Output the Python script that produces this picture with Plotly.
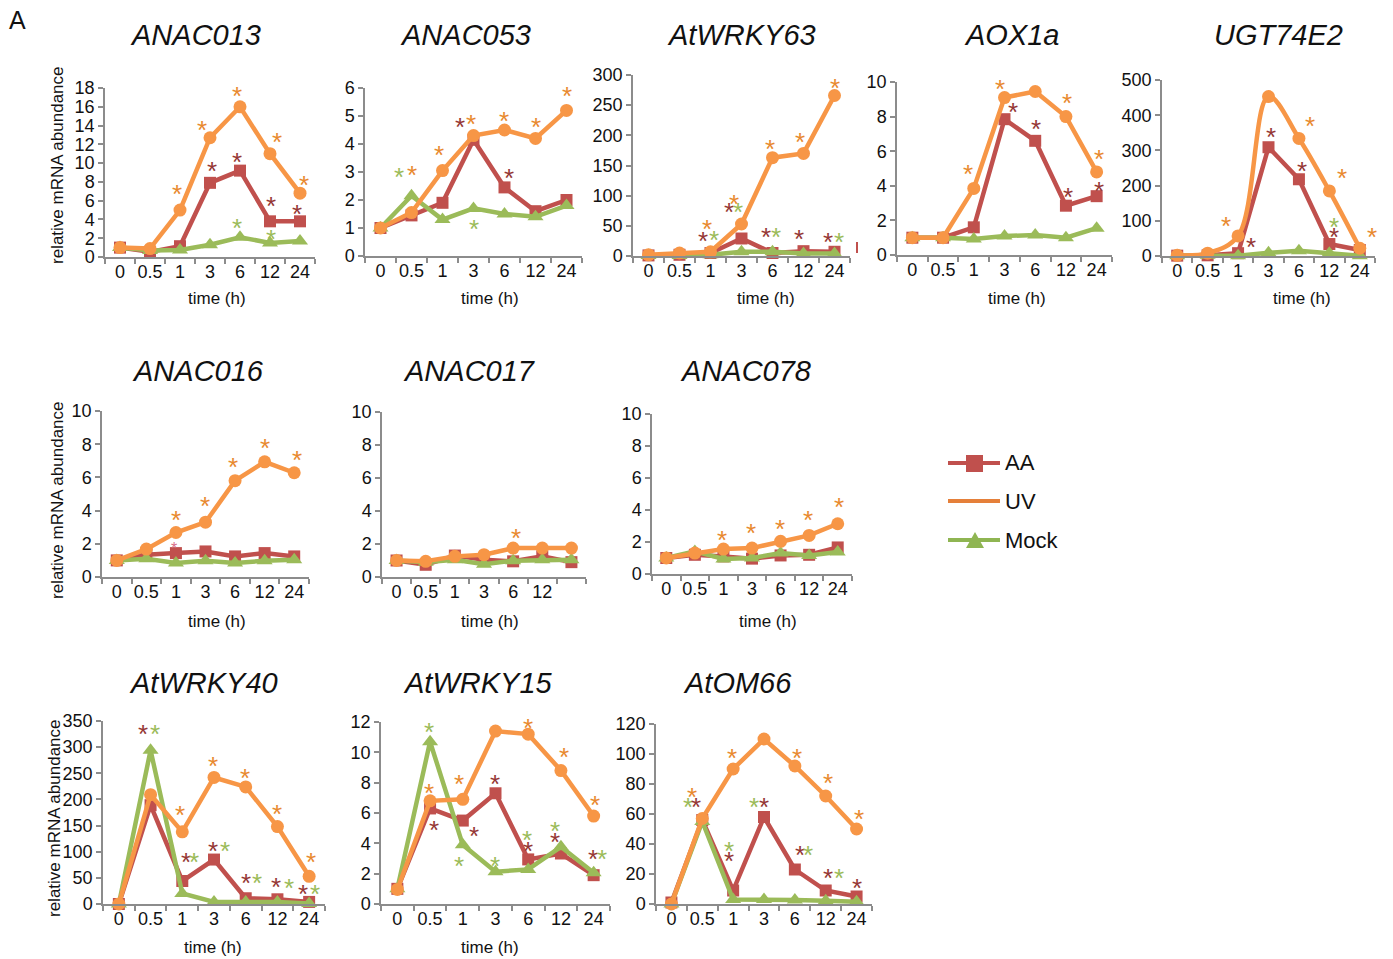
import plotly.graph_objects as go

W, H = 1393, 959
FONT = "Liberation Sans, Arial, sans-serif"

# ---------------- data ----------------
times = ["0", "0.5", "1", "3", "6", "12", "24"]
times_017 = ["0", "0.5", "1", "3", "6", "12", ""]

genes = ["ANAC013", "ANAC053", "AtWRKY63", "AOX1a", "UGT74E2",
         "ANAC016", "ANAC017", "ANAC078",
         "AtWRKY40", "AtWRKY15", "AtOM66"]

anac013_aa = [1.0, 0.55, 1.15, 7.9, 9.2, 3.8, 3.8]
anac013_uv = [1.0, 0.9, 5.0, 12.7, 16.0, 11.0, 6.8]
anac013_mock = [1.0, 0.7, 0.75, 1.3, 2.1, 1.5, 1.7]

anac053_aa = [1.0, 1.45, 1.9, 4.15, 2.45, 1.6, 2.0]
anac053_uv = [1.0, 1.55, 3.05, 4.3, 4.5, 4.2, 5.2]
anac053_mock = [1.0, 2.15, 1.3, 1.7, 1.5, 1.4, 1.8]

wrky63_aa = [1, 2, 5, 29, 5, 8, 7]
wrky63_uv = [2, 5, 7, 53, 163, 170, 266]
wrky63_mock = [1, 1, 2, 7, 7, 4, 4]

aox1a_aa = [1.0, 1.0, 1.6, 7.85, 6.6, 2.85, 3.4]
aox1a_uv = [1.0, 1.0, 3.85, 9.1, 9.45, 8.0, 4.8]
aox1a_mock = [1.0, 1.0, 0.92, 1.1, 1.15, 1.0, 1.55]

ugt_aa = [1, 2, 8, 309, 218, 34, 17]
ugt_uv = [2, 8, 57, 453, 334, 185, 22]
ugt_mock = [1, 2, 1, 9, 15, 8, 1]

anac016_aa = [1.0, 1.34, 1.44, 1.54, 1.24, 1.44, 1.24]
anac016_uv = [1.0, 1.68, 2.68, 3.3, 5.8, 6.94, 6.28]
anac016_mock = [1.0, 1.1, 0.84, 0.98, 0.84, 0.98, 1.04]

anac017_aa = [1.0, 0.74, 1.3, 1.05, 0.95, 1.25, 0.9]
anac017_uv = [1.0, 0.95, 1.25, 1.35, 1.75, 1.75, 1.75]
anac017_mock = [1.0, 0.9, 1.05, 0.78, 0.99, 1.05, 1.05]

anac078_aa = [1.0, 1.2, 1.1, 0.96, 1.16, 1.2, 1.66]
anac078_uv = [1.0, 1.31, 1.56, 1.62, 2.04, 2.41, 3.14]
anac078_mock = [1.0, 1.41, 0.94, 1.0, 1.31, 1.16, 1.37]

wrky40_aa = [0, 189, 44, 85, 11, 9, 4]
wrky40_uv = [0, 209, 138, 242, 224, 148, 53]
wrky40_mock = [0, 294, 20, 4, 4, 4, 1]

wrky15_aa = [1.0, 6.3, 5.5, 7.3, 2.94, 3.33, 1.9]
wrky15_uv = [0.96, 6.8, 6.9, 11.4, 11.2, 8.8, 5.8]
wrky15_mock = [1.0, 10.7, 3.9, 2.13, 2.28, 3.77, 2.06]

atom66_aa = [1, 56, 9, 58, 23, 9, 5]
atom66_uv = [0, 57, 90, 110, 92, 72, 50]
atom66_mock = [0, 55, 3, 3, 2.7, 2.2, 1.5]

# y axis maxima and tick steps
y_max = [18, 6, 300, 10, 500, 10, 10, 10, 350, 12, 120]
y_step = [2, 1, 50, 2, 100, 2, 2, 2, 50, 2, 20]

# significance asterisks: (series, x position in category units, y value)
stars = [
    [("UV", 1.9, 7.2), ("UV", 2.73, 14.1), ("UV", 3.9, 17.7), ("UV", 5.23, 12.8), ("UV", 6.13, 8.2),
     ("AA", 3.07, 9.7), ("AA", 3.9, 10.6), ("AA", 5.03, 6.0), ("AA", 5.9, 5.1),
     ("Mock", 3.9, 3.6), ("Mock", 5.03, 2.5)],
    [("Mock", 0.59, 3.01), ("UV", 1.03, 3.07), ("UV", 1.89, 3.79), ("AA", 2.57, 4.8), ("UV", 2.92, 4.89),
     ("UV", 3.97, 5.0), ("AA", 4.14, 2.97), ("Mock", 3.03, 1.13), ("UV", 5.03, 4.8), ("UV", 6.0, 5.88)],
    [("UV", 1.88, 53), ("AA", 1.77, 33), ("Mock", 2.12, 35), ("UV", 2.75, 94), ("AA", 2.61, 81),
     ("Mock", 2.88, 81), ("UV", 3.93, 185), ("AA", 3.79, 40), ("Mock", 4.12, 40), ("UV", 4.89, 198),
     ("AA", 4.87, 37), ("UV", 6.0, 287), ("AA", 5.79, 31), ("Mock", 6.14, 31)],
    [("UV", 1.8, 5.0), ("UV", 2.84, 9.87), ("AA", 3.28, 8.56), ("UV", 3.98, 10.44), ("AA", 4.03, 7.56),
     ("UV", 5.04, 9.1), ("AA", 5.07, 3.65), ("UV", 6.09, 5.83), ("AA", 6.09, 3.98)],
    [("UV", 1.61, 99), ("AA", 2.42, 41), ("UV", 2.93, 505), ("AA", 3.09, 353), ("UV", 4.36, 383),
     ("AA", 4.1, 256), ("UV", 5.42, 235), ("Mock", 5.16, 96), ("AA", 5.16, 69), ("UV", 6.39, 69),
     ("AA", 6.61, 93), ("Mock", 6.8, 69)],
    [("UV", 2.0, 3.74), ("AA2", 1.95, 2.04), ("UV", 2.98, 4.58), ("UV", 3.94, 6.94), ("UV", 5.02, 8.08),
     ("UV", 6.11, 7.34)],
    [("UV", 4.11, 2.66)],
    [("UV", 1.96, 2.45), ("UV", 2.98, 2.87), ("UV", 3.99, 3.12), ("UV", 4.97, 3.7), ("UV", 6.04, 4.47)],
    [("UV", 0.95, 353), ("AA", 0.76, 335), ("Mock", 1.14, 335), ("UV", 1.94, 180), ("AA", 2.11, 90),
     ("Mock", 2.37, 90), ("UV", 2.97, 273), ("AA", 2.97, 111), ("Mock", 3.35, 111), ("UV", 3.98, 251),
     ("AA", 4.0, 50), ("Mock", 4.37, 50), ("UV", 5.0, 181), ("AA", 4.97, 43), ("Mock", 5.35, 41),
     ("UV", 6.05, 89), ("AA", 5.82, 29), ("Mock", 6.19, 29)],
    [("Mock", 0.97, 11.7), ("UV", 0.97, 7.67), ("AA", 1.12, 5.2), ("UV", 1.88, 8.27), ("AA", 2.34, 4.82),
     ("Mock", 1.88, 2.83), ("UV", 2.92, 12.15), ("AA", 2.98, 8.22), ("Mock", 2.98, 2.83), ("UV", 4.0, 11.93),
     ("Mock", 3.97, 4.54), ("AA", 4.0, 3.84), ("UV", 5.09, 10.0), ("Mock", 4.83, 5.13), ("AA", 4.83, 4.43),
     ("UV", 6.03, 6.84), ("AA", 5.97, 3.29), ("Mock", 6.26, 3.29)],
    [("UV", 0.67, 75), ("Mock", 0.53, 68), ("AA", 0.81, 68), ("Mock", 1.88, 39), ("AA", 1.88, 32),
     ("UV", 1.96, 101), ("UV", 3.0, 121), ("Mock", 2.68, 68), ("AA", 3.0, 68), ("UV", 4.06, 101),
     ("AA", 4.17, 36), ("Mock", 4.43, 36), ("UV", 5.06, 84), ("AA", 5.09, 21), ("Mock", 5.44, 21),
     ("UV", 6.09, 60), ("AA", 6.0, 14)],
]

series_data = [
    (anac013_aa, anac013_uv, anac013_mock),
    (anac053_aa, anac053_uv, anac053_mock),
    (wrky63_aa, wrky63_uv, wrky63_mock),
    (aox1a_aa, aox1a_uv, aox1a_mock),
    (ugt_aa, ugt_uv, ugt_mock),
    (anac016_aa, anac016_uv, anac016_mock),
    (anac017_aa, anac017_uv, anac017_mock),
    (anac078_aa, anac078_uv, anac078_mock),
    (wrky40_aa, wrky40_uv, wrky40_mock),
    (wrky15_aa, wrky15_uv, wrky15_mock),
    (atom66_aa, atom66_uv, atom66_mock),
]

# ---------------- layout geometry (pixels: left, right, top, bottom) ----------------
boxes = [
    (105, 315, 88, 257), (365, 582, 88, 256), (633, 850, 75, 256), (897, 1112, 82, 255), (1162, 1375, 80, 256),
    (102, 309, 411, 577), (382, 586, 412, 577), (652, 852, 414, 574),
    (103, 325, 721, 904), (381, 610, 722, 904), (656, 872, 724, 904),
]
title_pos = [(195, 35), (465, 35), (741, 35), (1012, 35), (1278, 35),
             (198, 371), (469, 371), (745, 371),
             (203, 683), (478, 683), (738, 683)]
xtitle_pos = [(217, 299), (490, 299), (766, 299), (1017, 299), (1302, 299),
              (217, 621), (490, 621), (768, 621),
              (213, 947), (490, 947)]
ytitle_pos = [(57, 165), (57, 500), (54, 818)]

AA_C, UV_C, MOCK_C = "#c0504d", "#f79646", "#9bbb59"
STAR_C = {"AA": "#953735", "UV": "#e8892f", "Mock": "#9bbb59", "AA2": "#d9708a"}
AXIS_C = "#8c8c8c"


def paper_ann(px, py, text, size, **kw):
    d = dict(x=px / W, y=1 - py / H, xref="paper", yref="paper", text=text, showarrow=False,
             xanchor="center", yanchor="middle",
             font=dict(size=size, color="#111", family=FONT))
    d.update(kw)
    return d


fig = go.Figure()
layout = dict(
    width=W, height=H, margin=dict(l=0, r=0, t=0, b=0, autoexpand=False),
    paper_bgcolor="white", plot_bgcolor="white", showlegend=False,
    font=dict(family=FONT, color="#111"),
)
annotations = []
shapes = []

for i in range(11):
    n = i + 1
    xs = "x" if n == 1 else f"x{n}"
    ys = "y" if n == 1 else f"y{n}"
    l, r, t, b = boxes[i]
    labels = times_017 if genes[i] == "ANAC017" else times
    xpos = list(range(len(times)))
    layout["xaxis" if n == 1 else f"xaxis{n}"] = dict(
        domain=[l / W, r / W], anchor=ys, range=[-0.5, len(times) - 0.5],
        tickmode="array", tickvals=xpos, ticktext=labels,
        ticks="", ticklabelstandoff=-2,
        minor=dict(tickmode="array", tickvals=[k - 0.5 for k in range(len(times) + 1)],
                   ticks="outside", ticklen=5, tickcolor=AXIS_C, tickwidth=1.5, showgrid=False),
        showline=True, linecolor=AXIS_C, linewidth=1.5, showgrid=False, zeroline=False,
        tickfont=dict(size=18, color="#111", family=FONT), fixedrange=True,
    )
    layout["yaxis" if n == 1 else f"yaxis{n}"] = dict(
        domain=[(H - b) / H, (H - t) / H], anchor=xs, range=[0, y_max[i]],
        tick0=0, dtick=y_step[i], ticks="outside", ticklen=5, tickcolor=AXIS_C, tickwidth=1.5,
        ticklabelstandoff=0,
        showline=True, linecolor=AXIS_C, linewidth=1.5, showgrid=False, zeroline=False,
        tickfont=dict(size=18, color="#111", family=FONT), fixedrange=True,
    )
    aa, uv, mock = series_data[i]
    fig.add_trace(go.Scatter(x=xpos, y=aa, xaxis=xs, yaxis=ys, mode="lines+markers",
                             line=dict(color=AA_C, width=4.5),
                             marker=dict(symbol="square", size=12, color=AA_C),
                             cliponaxis=False, name="AA"))
    fig.add_trace(go.Scatter(x=xpos, y=mock, xaxis=xs, yaxis=ys, mode="lines+markers",
                             line=dict(color=MOCK_C, width=4.5),
                             marker=dict(symbol="triangle-up", size=14, color=MOCK_C),
                             cliponaxis=False, name="Mock"))
    fig.add_trace(go.Scatter(x=xpos, y=uv, xaxis=xs, yaxis=ys, mode="lines+markers",
                             line=dict(color=UV_C, width=4.5,
                                       shape="spline" if genes[i] == "UGT74E2" else "linear"),
                             marker=dict(symbol="circle", size=13, color=UV_C),
                             cliponaxis=False, name="UV"))
    for s, sx, sy in stars[i]:
        annotations.append(dict(x=sx, y=sy, xref=xs, yref=ys, text="*", showarrow=False,
                                xanchor="center", yanchor="middle", yshift=-5,
                                font=dict(size=16 if s == "AA2" else 26, color=STAR_C[s], family=FONT)))
    tx, ty = title_pos[i]
    annotations.append(paper_ann(tx, ty, f"<i>{genes[i]}</i>", 29))

for tx, ty in xtitle_pos:
    annotations.append(paper_ann(tx, ty, "time (h)", 17))
for tx, ty in ytitle_pos:
    annotations.append(paper_ann(tx, ty, "relative mRNA abundance", 17, textangle=-90))

# panel letter
annotations.append(paper_ann(17, 20, "A", 25))

# legend (drawn manually)
leg_names = ["AA", "UV", "Mock"]
leg_y = [463, 501, 540]
leg_line_c = [AA_C, "#e5803a", "#8fb552"]
for name, yy, lc in zip(leg_names, leg_y, leg_line_c):
    shapes.append(dict(type="line", xref="paper", yref="paper", x0=948 / W, x1=1000 / W,
                       y0=1 - yy / H, y1=1 - yy / H, line=dict(color=lc, width=4)))
    annotations.append(paper_ann(1003, yy, name, 22, xanchor="left"))
shapes.append(dict(type="rect", xref="paper", yref="paper", x0=966 / W, x1=983 / W,
                   y0=1 - 472 / H, y1=1 - 455 / H, fillcolor=AA_C, line=dict(width=0)))
shapes.append(dict(type="path", xref="paper", yref="paper",
                   path=f"M {966 / W} {1 - 548 / H} L {984 / W} {1 - 548 / H} L {975 / W} {1 - 532 / H} Z",
                   fillcolor="#8fb552", line=dict(width=0)))
# small clipped mark at right of AtWRKY63 panel
shapes.append(dict(type="line", xref="paper", yref="paper", x0=857 / W, x1=857 / W,
                   y0=1 - 253 / H, y1=1 - 242 / H, line=dict(color=AA_C, width=2)))

layout["annotations"] = annotations
layout["shapes"] = shapes
fig.update_layout(**layout)
fig.write_html("out.html")
